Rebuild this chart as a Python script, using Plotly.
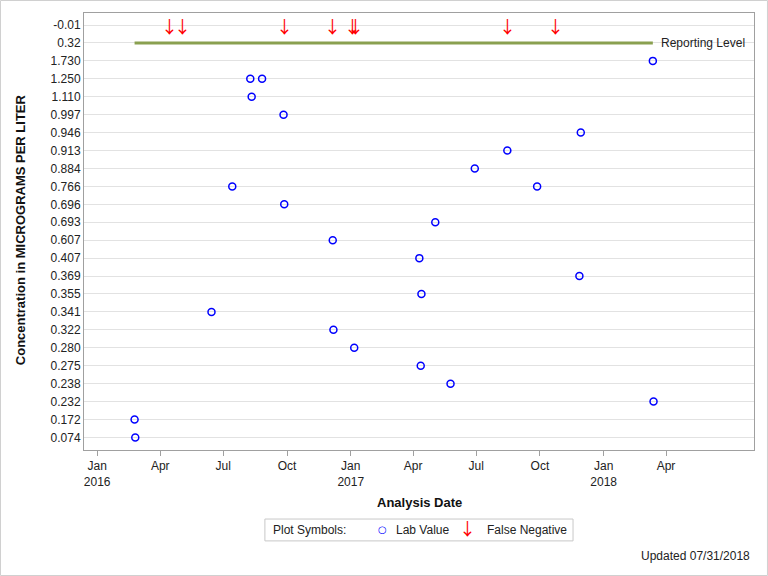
import plotly.graph_objects as go

# y categories, bottom to top
categories = ["0.074", "0.172", "0.232", "0.238", "0.275", "0.280", "0.322", "0.341",
              "0.355", "0.369", "0.407", "0.607", "0.693", "0.696", "0.766", "0.884",
              "0.913", "0.946", "0.997", "1.110", "1.250", "1.730", "0.32", "-0.01"]

lab_dates = ["2016-02-25", "2016-02-24", "2016-06-14", "2016-07-14", "2016-08-09",
             "2016-08-26", "2016-08-11", "2016-09-26", "2016-09-27", "2016-12-06",
             "2016-12-07", "2017-01-06", "2017-05-03", "2017-04-10", "2017-11-27",
             "2017-04-13", "2017-04-12", "2017-05-25", "2018-03-14", "2018-03-13",
             "2017-11-29", "2017-08-15", "2017-06-29", "2017-09-27"]
lab_values = ["0.074", "0.172", "0.341", "0.766", "1.250", "1.250", "1.110", "0.997",
              "0.696", "0.607", "0.322", "0.280", "0.693", "0.407", "0.369", "0.355",
              "0.275", "0.238", "0.232", "1.730", "0.946", "0.913", "0.884", "0.766"]

fn_dates = ["2016-04-15", "2016-05-03", "2016-09-27", "2016-12-06", "2017-01-04",
            "2017-01-08", "2017-08-15", "2017-10-24"]
fn_values = ["-0.01"] * len(fn_dates)

rl_dates = ["2016-02-24", "2018-03-13"]
rl_values = ["0.32", "0.32"]

tick_dates = ["2016-01-01", "2016-04-01", "2016-07-01", "2016-10-01", "2017-01-01",
              "2017-04-01", "2017-07-01", "2017-10-01", "2018-01-01", "2018-04-01"]
tick_text = ["Jan<br>2016", "Apr", "Jul", "Oct", "Jan<br>2017", "Apr", "Jul", "Oct",
             "Jan<br>2018", "Apr"]

FONT = "Liberation Sans, Arial, sans-serif"
ARROW_FONT = "Noto Sans CJK JP"
TXT = dict(size=12, color="#222", family=FONT)

fig = go.Figure()

fig.add_trace(go.Scatter(
    x=rl_dates, y=rl_values, mode="lines",
    line=dict(color="#8aa050", width=3), showlegend=False, hoverinfo="skip",
))
fig.add_trace(go.Scatter(
    x=lab_dates, y=lab_values, mode="markers",
    marker=dict(symbol="circle-open", color="blue", size=7, line=dict(width=1.5)),
    showlegend=False,
))

# false negatives: down arrows on the -0.01 row
for d, v in zip(fn_dates, fn_values):
    fig.add_annotation(x=d, y=categories.index(v), text="\u2193", showarrow=False,
                       font=dict(size=17, color="red", family=ARROW_FONT))

fig.update_xaxes(
    type="date", range=["2015-12-13", "2018-08-06"],
    tickvals=tick_dates, ticktext=tick_text,
    ticks="outside", ticklen=5, tickcolor="#a0a0a0",
    showgrid=False, showline=True, linecolor="#a0a0a0", mirror=True,
    tickfont=TXT, zeroline=False,
)
fig.update_yaxes(
    type="category", categoryorder="array", categoryarray=categories,
    range=[-0.7, 23.67],
    showgrid=True, gridcolor="#e2e2e2", gridwidth=1,
    showline=True, linecolor="#a0a0a0", mirror=True, ticks="",
    tickfont=TXT,
)

# reporting level label (category axis: use the category index)
fig.add_annotation(x=rl_dates[-1], y=categories.index("0.32"), text="Reporting Level",
                   showarrow=False, xanchor="left", xshift=6, font=TXT)


def note(x, y, text, font=TXT, xanchor="center", **kw):
    fig.add_annotation(xref="paper", yref="paper", x=x, y=y, text=text, showarrow=False,
                       xanchor=xanchor, yanchor="middle", font=font, **kw)


# axis titles
note(0.5, -0.121, "<b>Analysis Date</b>", dict(size=13, color="#111", family=FONT))
note(-0.0955, 0.503, "<b>Concentration in MICROGRAMS PER LITER</b>",
     dict(size=13, color="#111", family=FONT), textangle=-90)

# legend box
fig.add_shape(type="rect", xref="paper", yref="paper", x0=0.270, x1=0.7299,
              y0=-0.158, y1=-0.208, line=dict(color="#c8c8c8", width=1))
note(0.279, -0.183, "Plot Symbols:", xanchor="left")
note(0.4448, -0.183, "\u25cb", dict(size=10, color="blue", family="DejaVu Sans"))
note(0.4627, -0.183, "Lab Value", xanchor="left")
note(0.5731, -0.183, "\u2193", dict(size=17, color="red", family=ARROW_FONT), yshift=2)
note(0.5985, -0.183, "False Negative", xanchor="left")

note(0.997, -0.243, "Updated 07/31/2018", xanchor="right")

# outer frame
fig.add_shape(type="rect", xref="paper", yref="paper", x0=-0.1246, x1=1.0201,
              y0=-0.2872, y1=1.0286, line=dict(color="#d0d0d0", width=1))

fig.update_layout(
    width=768, height=576,
    margin=dict(l=84, r=14, t=13, b=126),
    paper_bgcolor="white", plot_bgcolor="white",
    font=dict(family=FONT),
)

fig.write_html("out.html", config={"displayModeBar": False},
               post_script="document.body.style.margin='0';")
